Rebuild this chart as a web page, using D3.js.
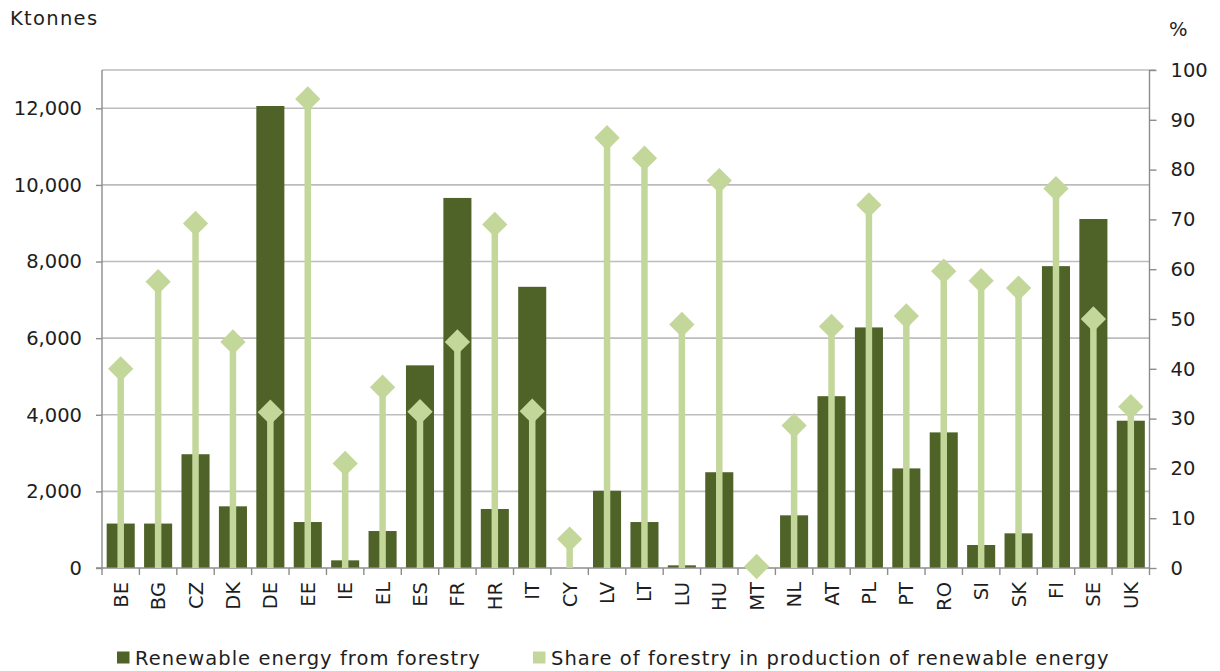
<!DOCTYPE html>
<html>
<head>
<meta charset="utf-8">
<script src="https://cdn.jsdelivr.net/npm/d3@7"></script>
<style>
  html, body { margin: 0; padding: 0; background: #fff; }
  svg { display: block; }
  text { font-family: "DejaVu Sans", Verdana, sans-serif; fill: #1e1e1e; }
</style>
</head>
<body>
<svg id="chart" width="1220" height="671"></svg>
<script>
// Member-state codes along the x axis
const categories = ["BE","BG","CZ","DK","DE","EE","IE","EL","ES","FR","HR","IT","CY","LV",
                    "LT","LU","HU","MT","NL","AT","PL","PT","RO","SI","SK","FI","SE","UK"];

// Renewable energy from forestry (ktonnes, left axis)
const forestryKt = [1160, 1160, 2970, 1610, 12060, 1200, 200, 965, 5290, 9660, 1540, 7340, 0, 2015,
                    1200, 70, 2500, 0, 1375, 4485, 6280, 2600, 3540, 600, 905, 7880, 9110, 3845];

// Share of forestry in production of renewable energy (%, right axis)
const sharePct = [40.0, 57.5, 69.2, 45.4, 31.3, 94.2, 21.0, 36.3, 31.4, 45.4, 69.0, 31.5, 5.8, 86.4,
                  82.3, 48.9, 77.8, 0.3, 28.6, 48.5, 72.9, 50.6, 59.6, 57.7, 56.2, 76.2, 50.0, 32.4];

const leftTicks = [0, 2000, 4000, 6000, 8000, 10000, 12000];
const rightTicks = [0, 10, 20, 30, 40, 50, 60, 70, 80, 90, 100];

const seriesNames = ["Renewable energy from forestry", "Share of forestry in production of renewable energy"];

const darkGreen = "#4F6228";
const lightGreen = "#C4D79B";
const gridColor = "#BDBDBD";
const axisColor = "#8C8C8C";

const svg = d3.select("#chart");
const plot = { left: 102, right: 1149.5, top: 70, bottom: 568 };

const x = d3.scaleBand().domain(categories).range([plot.left, plot.right]).paddingInner(0).paddingOuter(0);
const yLeft = d3.scaleLinear().domain([0, 13000]).range([plot.bottom, plot.top]);
const yRight = d3.scaleLinear().domain([0, 100]).range([plot.bottom, plot.top]);

const fontSize = 19.5;

// Horizontal gridlines from the ktonnes axis, plus the frame's top edge
svg.append("g")
  .selectAll("line.grid")
  .data(leftTicks.filter(d => d > 0))
  .join("line")
  .attr("x1", plot.left).attr("x2", plot.right)
  .attr("y1", d => yLeft(d)).attr("y2", d => yLeft(d))
  .attr("stroke", gridColor).attr("stroke-width", 1.6);

svg.append("line")
  .attr("x1", plot.left).attr("x2", plot.right + 6)
  .attr("y1", plot.top).attr("y2", plot.top)
  .attr("stroke", gridColor).attr("stroke-width", 1.6);

// Left axis
const leftAxis = d3.axisLeft(yLeft)
  .tickValues(leftTicks)
  .tickSize(6)
  .tickPadding(14)
  .tickFormat(d3.format(","));
const gL = svg.append("g").attr("transform", `translate(${plot.left},0)`).call(leftAxis);
gL.select(".domain").remove();
gL.append("line").attr("x1", 0).attr("x2", 0).attr("y1", plot.top).attr("y2", plot.bottom)
  .attr("stroke", axisColor).attr("stroke-width", 1.4);
gL.selectAll(".tick line").attr("stroke", axisColor).attr("stroke-width", 1.4);
gL.selectAll(".tick text").attr("font-size", fontSize).attr("fill", "#1e1e1e")
  .attr("font-family", "DejaVu Sans, Verdana, sans-serif");

// Right axis
const rightAxis = d3.axisRight(yRight)
  .tickValues(rightTicks)
  .tickSize(7)
  .tickPadding(14);
const gR = svg.append("g").attr("transform", `translate(${plot.right},0)`).call(rightAxis);
gR.select(".domain").remove();
gR.append("line").attr("x1", 0).attr("x2", 0).attr("y1", plot.top).attr("y2", plot.bottom)
  .attr("stroke", axisColor).attr("stroke-width", 1.4);
gR.selectAll(".tick line").attr("stroke", axisColor).attr("stroke-width", 1.4);
gR.selectAll(".tick text").attr("font-size", fontSize).attr("fill", "#1e1e1e")
  .attr("font-family", "DejaVu Sans, Verdana, sans-serif");

// Bars: renewable energy from forestry
svg.append("g")
  .selectAll("rect")
  .data(categories)
  .join("rect")
  .attr("x", (d) => x(d) + x.bandwidth() * 0.125)
  .attr("width", x.bandwidth() * 0.75)
  .attr("y", (d, i) => yLeft(forestryKt[i]))
  .attr("height", (d, i) => yLeft(0) - yLeft(forestryKt[i]))
  .attr("fill", darkGreen);

// Category axis along the baseline
const bottomAxis = d3.axisBottom(x).tickSize(0).tickFormat("");
const gB = svg.append("g").attr("transform", `translate(0,${plot.bottom})`).call(bottomAxis);
gB.select(".domain").remove();
gB.append("line").attr("x1", plot.left - 6).attr("x2", plot.right).attr("y1", 0).attr("y2", 0)
  .attr("stroke", axisColor).attr("stroke-width", 1.4);
// Tick marks at category boundaries
const boundaries = categories.map(c => x(c)).concat([plot.right]);
gB.selectAll("line.bound")
  .data(boundaries)
  .join("line")
  .attr("class", "bound")
  .attr("x1", d => d).attr("x2", d => d)
  .attr("y1", 0).attr("y2", 7)
  .attr("stroke", axisColor).attr("stroke-width", 1.4);
// Rotated category labels
gB.selectAll("text.cat")
  .data(categories)
  .join("text")
  .attr("class", "cat")
  .attr("transform", d => `translate(${x(d) + x.bandwidth() / 2 + 7},14) rotate(-90)`)
  .attr("text-anchor", "end")
  .attr("font-size", fontSize)
  .text(d => d);

// Lollipops: share of forestry (%)
const lolli = svg.append("g");
lolli.selectAll("line")
  .data(categories)
  .join("line")
  .attr("x1", d => x(d) + x.bandwidth() / 2)
  .attr("x2", d => x(d) + x.bandwidth() / 2)
  .attr("y1", yRight(0))
  .attr("y2", (d, i) => yRight(sharePct[i]))
  .attr("stroke", lightGreen)
  .attr("stroke-width", 6.5);

const diamond = d3.symbol().type(d3.symbolSquare).size(320);
lolli.selectAll("path")
  .data(categories)
  .join("path")
  .attr("d", diamond)
  .attr("transform", (d, i) => `translate(${x(d) + x.bandwidth() / 2},${yRight(sharePct[i])}) rotate(45)`)
  .attr("fill", lightGreen);

// Axis titles
svg.append("text").attr("x", 10).attr("y", 25).attr("font-size", fontSize)
  .attr("letter-spacing", 1.3).text("Ktonnes");
svg.append("text").attr("x", 1169).attr("y", 36).attr("font-size", fontSize).text("%");

// Legend
const legend = svg.append("g");
const legendItems = [
  { name: seriesNames[0], color: darkGreen, x: 117 },
  { name: seriesNames[1], color: lightGreen, x: 533 }
];
legendItems.forEach(item => {
  legend.append("rect")
    .attr("x", item.x).attr("y", 651.5)
    .attr("width", 12.5).attr("height", 12)
    .attr("fill", item.color);
  legend.append("text")
    .attr("x", item.x + 18).attr("y", 665)
    .attr("font-size", fontSize)
    .attr("letter-spacing", 1.05)
    .text(item.name);
});
</script>
</body>
</html>
